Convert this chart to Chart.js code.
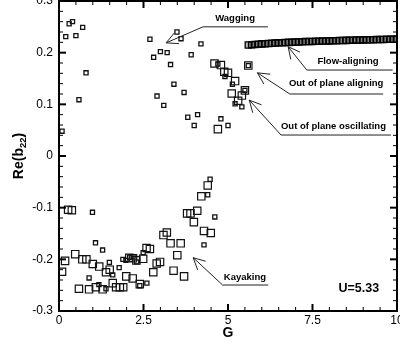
<!DOCTYPE html>
<html>
<head>
<meta charset="utf-8">
<script src="https://cdn.jsdelivr.net/npm/chart.js@4"></script>
<style>
  html, body { margin: 0; padding: 0; background: #fff; }
  #wrap { width: 400px; height: 344px; }
</style>
</head>
<body>
<div id="wrap"><canvas id="chart" width="400" height="344"></canvas></div>
<script>
// G values and Re(b22) values
const smallG = [0.30, 0.40, 0.20, 0.50, 0.70, 0.80, 0.59, 0.09,
  2.69, 3.49, 3.61, 3.00, 3.20, 2.80, 3.91, 3.30, 3.40, 3.70, 2.90, 3.10, 3.81, 4.10, 4.00, 4.20,
  4.79, 5.00, 4.70, 4.91, 5.13, 5.21, 5.41, 5.60, 5.50,
  0.99, 1.08, 1.29, 1.49, 1.78, 1.59, 0.89, 1.18, 1.39, 1.89, 1.98, 2.09, 2.19, 2.30, 2.49, 2.39, 2.60,
  4.47, 4.40, 4.61, 4.29];
const smallRe = [0.256, 0.260, 0.231, 0.233, 0.249, 0.161, 0.109, 0.048,
  0.226, 0.240, 0.227, 0.202, 0.200, 0.191, 0.196, 0.177, 0.139, 0.123, 0.116, 0.098, 0.075, 0.080, 0.059, 0.217,
  0.072, 0.059, 0.178, 0.154, 0.139, 0.101, 0.095, 0.175, 0.127,
  -0.109, -0.168, -0.182, -0.206, -0.216, -0.230, -0.236, -0.249, -0.257, -0.200, -0.202, -0.196, -0.195, -0.205, -0.187, -0.251, -0.246,
  -0.045, -0.075, -0.118, -0.172];

const largeG = [4.60, 4.79, 4.89, 5.00, 5.21, 5.11, 5.50, 5.41, 5.30, 4.70, 5.60,
  0.27, 0.38, 0.48, 0.18, 0.09, 0.69, 0.81, 1.00, 1.19, 1.50, 1.39, 1.99, 2.18, 2.08, 2.19, 2.29,
  0.59, 0.89, 1.09, 1.29, 1.59, 1.69, 1.80, 1.90, 2.39, 2.49, 2.59, 2.69, 2.89, 2.99, 2.79,
  3.09, 3.19, 3.30, 3.60, 3.50, 3.39, 3.70, 3.79, 3.89, 4.09, 3.99, 4.40, 4.21, 4.29, 4.49];
const largeRe = [0.179, 0.176, 0.163, 0.161, 0.145, 0.121, 0.127, 0.117, 0.107, 0.052, 0.175,
  -0.104, -0.105, -0.190, -0.203, -0.224, -0.200, -0.200, -0.209, -0.214, -0.220, -0.225, -0.233, -0.237, -0.197, -0.198, -0.202,
  -0.257, -0.258, -0.254, -0.258, -0.246, -0.254, -0.254, -0.254, -0.248, -0.199, -0.178, -0.180, -0.208, -0.205, -0.225,
  -0.153, -0.148, -0.169, -0.169, -0.192, -0.222, -0.233, -0.111, -0.111, -0.106, -0.128, -0.057, -0.078, -0.145, -0.149];

// flow-aligning branch
const flowG = [5.6, 5.7, 5.8, 5.9, 6.0, 6.1, 6.2, 6.3, 6.4, 6.5, 6.6, 6.7, 6.8, 6.9, 7.0,
  7.1, 7.2, 7.3, 7.4, 7.5, 7.6, 7.7, 7.8, 7.9, 8.0, 8.1, 8.2, 8.3, 8.4, 8.5,
  8.6, 8.7, 8.8, 8.9, 9.0, 9.1, 9.2, 9.3, 9.4, 9.5, 9.6, 9.7, 9.8, 9.9, 10.0];
const flowRe = [0.2150, 0.2155, 0.2160, 0.2165, 0.2170, 0.2174, 0.2178, 0.2182, 0.2186, 0.2190, 0.2193, 0.2196, 0.2199, 0.2202, 0.2205,
  0.2208, 0.2211, 0.2214, 0.2216, 0.2218, 0.2220, 0.2222, 0.2224, 0.2226, 0.2228, 0.2230, 0.2232, 0.2234, 0.2236, 0.2238,
  0.2240, 0.2242, 0.2244, 0.2245, 0.2247, 0.2249, 0.2250, 0.2252, 0.2253, 0.2255, 0.2256, 0.2258, 0.2259, 0.2260, 0.2262];

const xTicks = [0, 2.5, 5, 7.5, 10];
const yTicks = [-0.3, -0.2, -0.1, 0, 0.1, 0.2, 0.3];

// labels with arrows, placed in data units
const notes = [
  { text: 'Wagging', at: [5.21, 0.267], line: [4.26, 6.18, 0.25], tip: [3.17, 0.219] },
  { text: 'Flow-aligning', at: [8.55, 0.184], line: [7.33, 9.87, 0.1664], tip: [6.78, 0.2115] },
  { text: 'Out of plane aligning', at: [8.20, 0.1407], line: [6.83, 9.59, 0.12], tip: [5.87, 0.161] },
  { text: 'Out of plane oscillating', at: [8.12, 0.0567], line: [6.57, 9.82, 0.0406], tip: [5.63, 0.108] },
  { text: 'Kayaking', at: [5.50, -0.2348], line: [4.84, 6.19, -0.2497], tip: [3.97, -0.1968] }
];

const toPts = (xs, ys) => xs.map((x, i) => ({ x: x, y: ys[i] }));
const FONT = '"Liberation Sans", Arial, sans-serif';

const framePlugin = {
  id: 'frame',
  afterDatasetsDraw(chart) {
    const { ctx, chartArea: a, scales: { x, y } } = chart;
    ctx.save();
    ctx.strokeStyle = '#000';

    // inward ticks on all four sides
    const tick = (x0, y0, x1, y1, w) => {
      ctx.lineWidth = w;
      ctx.beginPath(); ctx.moveTo(x0, y0); ctx.lineTo(x1, y1); ctx.stroke();
    };
    for (let i = 0; i <= 20; i++) {
      const px = x.getPixelForValue(i * 0.5);
      const major = i % 5 === 0;
      const len = major ? 7 : 4;
      tick(px, a.bottom, px, a.bottom - len, major ? 2 : 1);
      tick(px, a.top, px, a.top + len, major ? 2 : 1);
    }
    for (let i = 0; i <= 30; i++) {
      const py = y.getPixelForValue(-0.3 + i * 0.02);
      const major = i % 5 === 0;
      const len = major ? 7 : 4;
      tick(a.left, py, a.left + len, py, major ? 2 : 1);
      tick(a.right, py, a.right - len, py, major ? 2 : 1);
    }

    ctx.lineWidth = 2;
    ctx.strokeRect(a.left, a.top, a.right - a.left, a.bottom - a.top);

    // annotations
    ctx.fillStyle = '#000';
    ctx.font = 'bold 9.5px ' + FONT;
    ctx.textAlign = 'center';
    ctx.textBaseline = 'middle';
    ctx.lineWidth = 1;
    ctx.strokeStyle = '#222';
    notes.forEach(n => {
      ctx.fillText(n.text, x.getPixelForValue(n.at[0]), y.getPixelForValue(n.at[1]));
      const lx0 = x.getPixelForValue(n.line[0]);
      const lx1 = x.getPixelForValue(n.line[1]);
      const ly = y.getPixelForValue(n.line[2]);
      const tx = x.getPixelForValue(n.tip[0]);
      const ty = y.getPixelForValue(n.tip[1]);
      ctx.beginPath();
      ctx.moveTo(lx1, ly); ctx.lineTo(lx0, ly); ctx.lineTo(tx, ty);
      ctx.stroke();
      const ang = Math.atan2(ly - ty, lx0 - tx);
      const wing = 13, spread = 0.47;
      ctx.beginPath();
      ctx.moveTo(tx + wing * Math.cos(ang - spread), ty + wing * Math.sin(ang - spread));
      ctx.lineTo(tx, ty);
      ctx.lineTo(tx + wing * Math.cos(ang + spread), ty + wing * Math.sin(ang + spread));
      ctx.stroke();
    });

    ctx.font = 'bold 12.5px ' + FONT;
    ctx.fillText('U=5.33', x.getPixelForValue(8.87), y.getPixelForValue(-0.256));

    // axis titles
    ctx.font = 'bold 14px ' + FONT;
    ctx.fillText('G', (a.left + a.right) / 2, 333);

    ctx.translate(18, y.getPixelForValue(0));
    ctx.rotate(-Math.PI / 2);
    const main = 'Re(b', sub = '22', end = ')';
    ctx.font = 'bold 14px ' + FONT;
    const w1 = ctx.measureText(main).width;
    const w3 = ctx.measureText(end).width;
    ctx.font = 'bold 9.5px ' + FONT;
    const w2 = ctx.measureText(sub).width;
    let cx = -(w1 + w2 + w3) / 2;
    ctx.textAlign = 'left';
    ctx.textBaseline = 'alphabetic';
    ctx.font = 'bold 14px ' + FONT;
    ctx.fillText(main, cx, 5);
    ctx.font = 'bold 9.5px ' + FONT;
    ctx.fillText(sub, cx + w1, 8);
    ctx.font = 'bold 14px ' + FONT;
    ctx.fillText(end, cx + w1 + w2, 5);
    ctx.restore();
  }
};

const ctx = document.getElementById('chart').getContext('2d');
const squareStyle = { pointStyle: 'rect', borderColor: '#111', backgroundColor: 'rgba(0,0,0,0)', showLine: false };

new Chart(ctx, {
  type: 'scatter',
  data: {
    datasets: [
      Object.assign({ label: 'small', data: toPts(smallG, smallRe), pointRadius: 2.9, borderWidth: 1.3, order: 0 }, squareStyle),
      Object.assign({ label: 'large', data: toPts(largeG, largeRe), pointRadius: 5.2, borderWidth: 1.2, order: 1 }, squareStyle),
      Object.assign({ label: 'flow', data: toPts(flowG, flowRe), pointRadius: 4.4, borderWidth: 1.3, order: 2 }, squareStyle,
        { borderColor: '#000', backgroundColor: 'rgba(0,0,0,0.3)' })
    ]
  },
  options: {
    responsive: false,
    animation: false,
    devicePixelRatio: 1,
    events: [],
    layout: { autoPadding: false, padding: { top: 1, right: 3, left: 0, bottom: 0 } },
    plugins: { legend: { display: false }, tooltip: { enabled: false } },
    scales: {
      x: {
        type: 'linear', min: 0, max: 10,
        afterBuildTicks: s => { s.ticks = xTicks.map(v => ({ value: v })); },
        grid: { display: false, drawTicks: false },
        border: { display: false },
        ticks: {
          padding: 2, maxRotation: 0, autoSkip: false,
          color: '#000', font: { family: FONT, size: 12 },
          callback: v => String(+v.toFixed(1))
        },
        afterFit: s => { s.height = 33; s.paddingLeft = 0; s.paddingRight = 0; }
      },
      y: {
        type: 'linear', min: -0.3, max: 0.3,
        afterBuildTicks: s => { s.ticks = yTicks.map(v => ({ value: v })); },
        grid: { display: false, drawTicks: false },
        border: { display: false },
        ticks: {
          padding: 6, autoSkip: false,
          color: '#000', font: { family: FONT, size: 12 },
          callback: v => String(+v.toFixed(1))
        },
        afterFit: s => { s.width = 59; s.paddingTop = 0; s.paddingBottom = 0; }
      }
    }
  },
  plugins: [framePlugin]
});
</script>
</body>
</html>
